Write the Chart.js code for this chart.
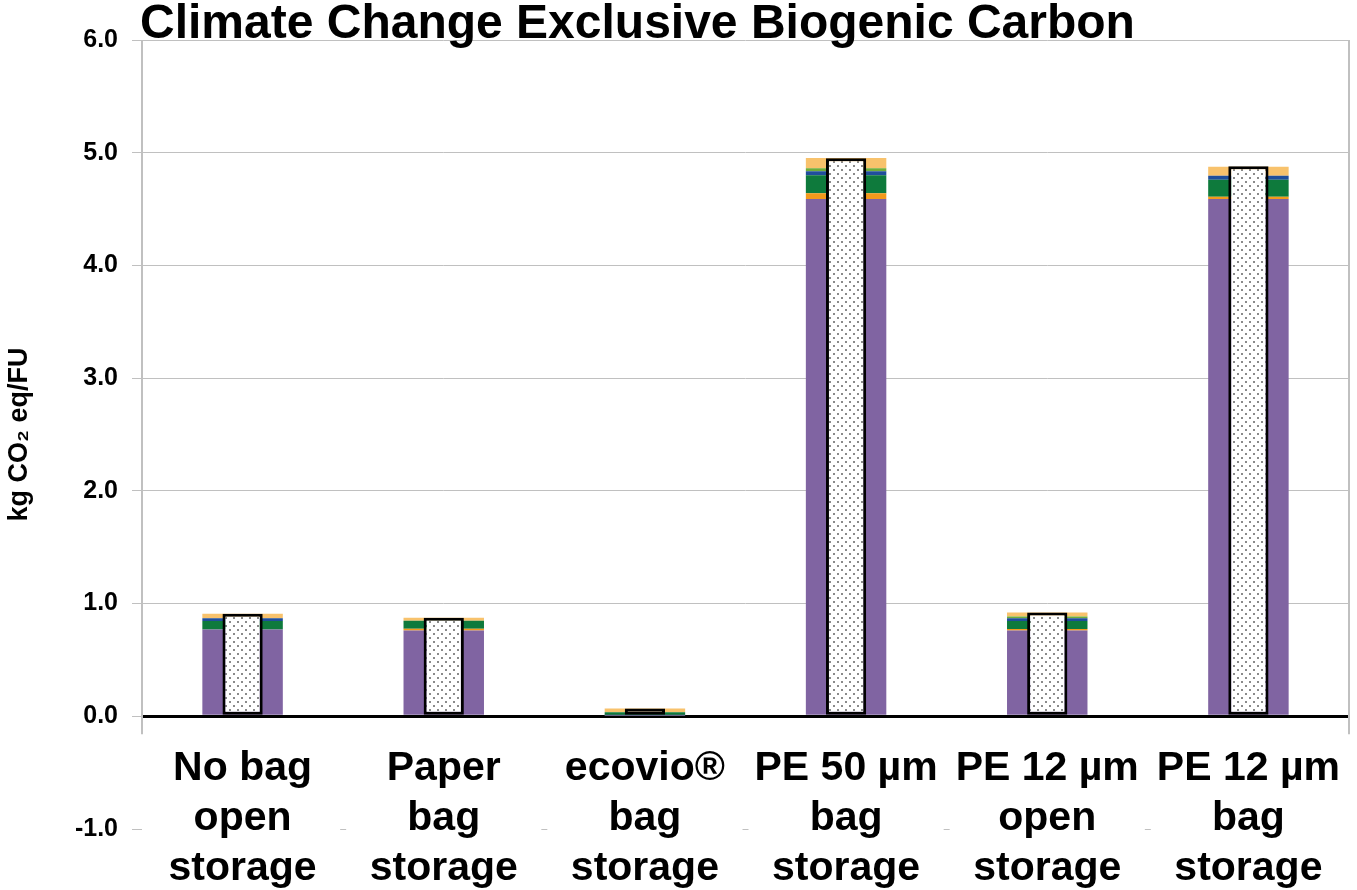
<!DOCTYPE html>
<html><head><meta charset="utf-8">
<script src="https://cdn.jsdelivr.net/npm/chart.js@4"></script>
<style>html,body{margin:0;padding:0;background:#fff}canvas{display:block}</style>
</head><body>
<canvas id="c" width="1357" height="890"></canvas>
<script>
// ---- data ----
const categories = [["No bag","open","storage"],["Paper","bag","storage"],["ecovio®","bag","storage"],["PE 50 µm","bag","storage"],["PE 12 µm","open","storage"],["PE 12 µm","bag","storage"]];
const seriesPurple      = [0.77, 0.762, 0.005, 4.59, 0.76, 4.59];
const seriesOrange      = [0.0, 0.015, 0.0, 0.05, 0.015, 0.02];
const seriesGreen       = [0.075, 0.07, 0.03, 0.16, 0.07, 0.15];
const seriesBlue        = [0.025, 0.0, 0.0, 0.035, 0.025, 0.035];
const seriesLightGreen  = [0.0, 0.0, 0.0, 0.027, 0.015, 0.0];
const seriesLightOrange = [0.04, 0.028, 0.035, 0.09, 0.035, 0.08];
const seriesTotal       = [0.91, 0.875, 0.07, 4.95, 0.92, 4.88];
const yMin = -1, yMax = 6, yStep = 1;
const titleText = "Climate Change Exclusive Biogenic Carbon";
const yAxisTitle = "kg CO\u2082 eq/FU";

const FONT = "'Liberation Sans', Arial, sans-serif";

// dotted pattern for total bars
function makePattern(){
  const p = document.createElement('canvas'); p.width = 8; p.height = 8;
  const g = p.getContext('2d');
  g.fillStyle = '#fff'; g.fillRect(0,0,8,8);
  g.fillStyle = '#8a8a8a';
  g.fillRect(1,1,2,2); g.fillRect(5,5,2,2);
  return document.getElementById('c').getContext('2d').createPattern(p,'repeat');
}
const pattern = makePattern();

function stackDs(label, data, color){
  return {label, data, backgroundColor: color, stack:'s', order:1, grouped:false,
          barPercentage:0.4, categoryPercentage:1.0, borderWidth:0};
}

const framePlugin = {
  id:'frame',
  beforeDatasetsDraw(chart){
    const {ctx, chartArea:a, scales:{x, y}} = chart;
    const y0 = y.getPixelForValue(0);
    const ym1 = y.getPixelForValue(-1);
    ctx.save();
    ctx.strokeStyle = '#c0c0c0'; ctx.lineWidth = 2;
    ctx.beginPath();
    ctx.moveTo(a.left, a.top); ctx.lineTo(a.left, y0 + 18);
    ctx.moveTo(a.right, a.top); ctx.lineTo(a.right, y0 + 18);
    ctx.stroke();
    ctx.lineWidth = 1;
    ctx.beginPath();
    for (let i = 1; i < categories.length; i++){
      const xm = (x.getPixelForValue(i-1) + x.getPixelForValue(i)) / 2;
      ctx.moveTo(xm - 3, ym1 + 0.5); ctx.lineTo(xm + 3, ym1 + 0.5);
    }
    ctx.stroke();
    ctx.restore();
  },
  afterDraw(chart){
    const {ctx, chartArea:a} = chart;
    ctx.save();
    ctx.fillStyle = '#000';
    ctx.font = "bold 48px " + FONT;
    ctx.textBaseline = 'alphabetic';
    ctx.textAlign = 'left';
    ctx.fillText(titleText, a.left - 2, 38);
    ctx.restore();
  }
};

new Chart(document.getElementById('c'), {
  type:'bar',
  data:{
    labels: categories,
    datasets:[
      stackDs('Purple', seriesPurple, '#8064A2'),
      stackDs('Orange', seriesOrange, '#F39A1B'),
      stackDs('Green', seriesGreen, '#0E7A3C'),
      stackDs('Blue', seriesBlue, '#1F4E9B'),
      stackDs('Light green', seriesLightGreen, '#6FAE3A'),
      stackDs('Light orange', seriesLightOrange, '#F8C26C'),
      {label:'Total', data: seriesTotal, backgroundColor: pattern, borderColor:'#000', borderWidth:3,
       borderSkipped:false, stack:'t', order:0, grouped:false, barPercentage:0.2, categoryPercentage:1.0}
    ]
  },
  options:{
    responsive:false, animation:false,
    layout:{autoPadding:false, padding:{top:40, right:8, left:0, bottom:61}},
    plugins:{legend:{display:false}, tooltip:{enabled:false}, title:{display:false}},
    scales:{
      x:{type:'category', stacked:true, offset:true, position:{y:0},
         grid:{display:false, drawTicks:false, offset:true}, border:{display:false},
         ticks:{color:'#000', font:{family:FONT, size:41, weight:'bold', lineHeight:1.22},
                padding:27, maxRotation:0, minRotation:0, autoSkip:false},
         afterFit(s){ s.paddingLeft = 0; s.paddingRight = 0; }},
      y:{type:'linear', stacked:true, min:yMin, max:yMax,
         ticks:{stepSize:yStep, color:'#000', padding:14, font:{family:FONT, size:25, weight:'bold'},
                callback:v=>v.toFixed(1)},
         grid:{color:c=>c.tick.value===0?'#000':(c.tick.value===-1?'rgba(0,0,0,0)':'#c0c0c0'),
               lineWidth:c=>c.tick.value===0?3:1, tickColor:'#c0c0c0', tickLength:10, tickWidth:1},
         border:{display:false},
         title:{display:true, text:yAxisTitle, color:'#000', font:{family:FONT, size:27, weight:'bold'}, padding:{top:3, bottom:0}},
         afterFit(s){ s.width = 142; }}
    }
  },
  plugins:[framePlugin]
});
</script>
</body></html>
